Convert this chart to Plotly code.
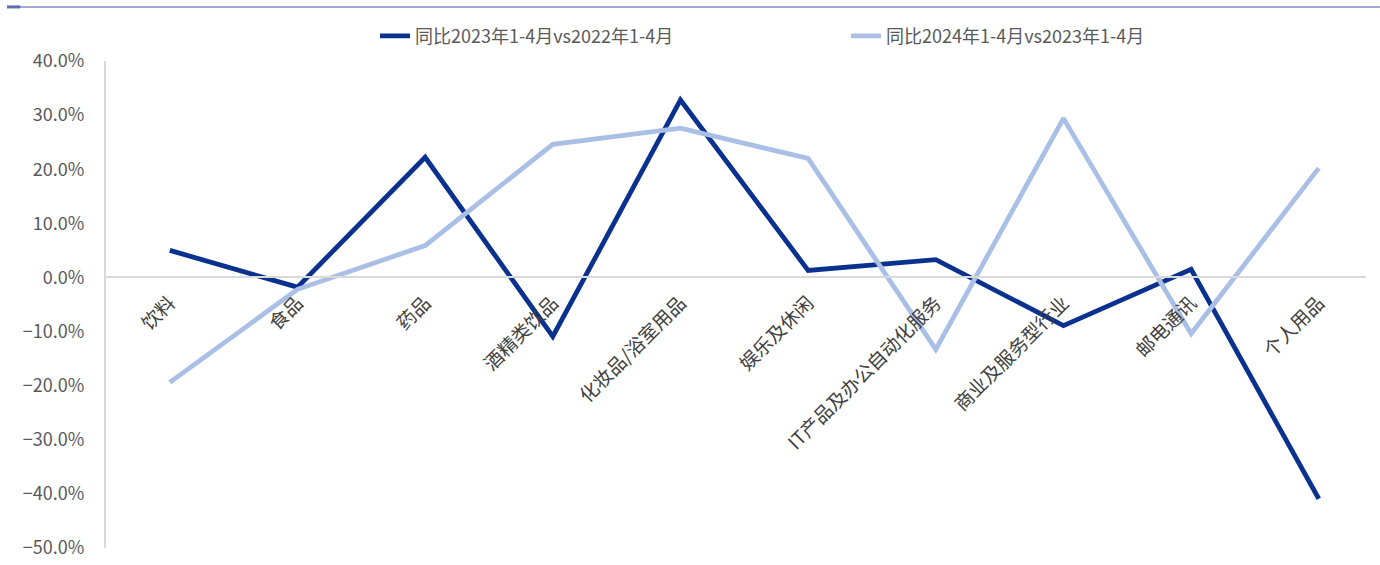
import plotly.graph_objects as go

categories = ["饮料", "食品", "药品", "酒精类饮品", "化妆品/浴室用品", "娱乐及休闲",
              "IT产品及办公自动化服务", "商业及服务型行业", "邮电通讯", "个人用品"]
series_2023 = [0.050, -0.018, 0.222, -0.109, 0.328, 0.013, 0.033, -0.089, 0.015, -0.409]
series_2024 = [-0.194, -0.022, 0.059, 0.246, 0.276, 0.220, -0.133, 0.294, -0.104, 0.202]
name_2023 = "同比2023年1-4月vs2022年1-4月"
name_2024 = "同比2024年1-4月vs2023年1-4月"
y_ticks = [-0.5, -0.4, -0.3, -0.2, -0.1, 0.0, 0.1, 0.2, 0.3, 0.4]

CJK = "Noto Sans CJK SC"
fig = go.Figure()
fig.add_trace(go.Scatter(x=categories, y=series_2023, mode="lines", name=name_2023,
                         line=dict(color="#0B318F", width=4.8)))
fig.add_trace(go.Scatter(x=categories, y=series_2024, mode="lines", name=name_2024,
                         line=dict(color="#A9BFE6", width=4.8)))

ymin, ymax = -0.5, 0.4
zero_pos = (0 - ymin) / (ymax - ymin)

fig.update_layout(
    width=1380, height=565,
    margin=dict(l=106, r=14, t=61, b=17, autoexpand=False),
    paper_bgcolor="white", plot_bgcolor="white",
    font=dict(family=CJK, color="#595959"),
    legend=dict(orientation="h", x=0.2135, xanchor="left", y=1.051, yanchor="middle",
                font=dict(size=18, color="#595959", family=CJK), entrywidth=426),
    xaxis=dict(type="category", range=[-0.5, 9.37], anchor="free", position=zero_pos,
               showline=True, linecolor="#D9D9D9", linewidth=2, showgrid=False,
               tickangle=-45, tickfont=dict(size=19, color="#404040", family=CJK),
               ticks="", zeroline=False, automargin=False, ticklabelstandoff=6),
    yaxis=dict(range=[ymin, ymax], tickvals=y_ticks, tickformat=".1%",
               showline=True, linecolor="#D9D9D9", linewidth=2, showgrid=False,
               zeroline=False, ticks="", automargin=False, ticklabelstandoff=16,
               tickfont=dict(size=18, color="#595959", family=CJK)),
    shapes=[
        dict(type="line", xref="paper", yref="paper", x0=-0.0786, x1=1.011, y0=1.111, y1=1.111,
             line=dict(color="#7F8FC2", width=1.5)),
        dict(type="line", xref="paper", yref="paper", x0=-0.0786, x1=-0.068, y0=1.111, y1=1.111,
             line=dict(color="#5A6FB3", width=3)),
    ],
)

fig.write_html("out.html", config={"displayModeBar": False},
               post_script="document.body.style.margin='0';document.body.style.padding='0';")
